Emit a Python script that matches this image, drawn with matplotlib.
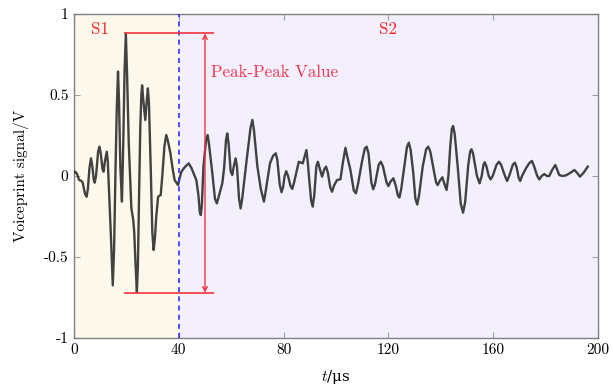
import matplotlib
matplotlib.use("Agg")
import matplotlib.pyplot as plt

# signal (t in us, voltage in V)
t = [0.0, 0.4, 1.1, 1.6, 2.0, 2.8, 3.3, 4.2, 4.8, 5.3,
     5.9, 6.5, 7.0, 7.5, 7.9, 8.4, 9.2, 9.7, 10.2, 10.9,
     11.3, 11.8, 12.5, 12.9, 13.4, 14.1, 14.8, 15.3, 15.8, 16.3,
     16.8, 17.2, 17.7, 18.3, 18.8, 19.3, 19.8, 20.3, 20.9, 21.4,
     21.9, 22.6, 23.0, 23.5, 24.0, 24.4, 24.8, 25.3, 25.7, 26.0,
     26.5, 27.2, 27.7, 28.2, 28.6, 29.3, 29.9, 30.4, 30.9, 31.4,
     32.1, 33.1, 33.7, 34.5, 35.2, 35.8, 36.8, 37.6, 38.4, 39.7,
     40.2, 41.0, 42.3, 43.8, 44.8, 45.8, 46.7, 47.5, 48.0, 48.4,
     48.8, 49.4, 50.4, 51.0, 51.5, 52.8, 53.8, 54.5, 55.2, 56.6,
     57.3, 58.0, 58.5, 59.0, 59.8, 60.4, 61.0, 61.7, 62.2, 63.0,
     63.6, 64.2, 65.9, 67.4, 68.1, 68.7, 70.0, 71.3, 72.5, 73.2,
     74.8, 76.0, 77.0, 77.6, 78.5, 79.2, 79.8, 80.4, 81.0, 81.7,
     82.6, 83.3, 84.0, 85.8, 87.3, 88.2, 88.7, 89.2, 89.8, 90.5,
     91.1, 91.7, 92.5, 93.1, 93.7, 94.7, 95.5, 96.2, 96.9, 97.8,
     98.5, 99.2, 100.4, 101.7, 102.6, 103.6, 104.3, 105.5, 106.8, 107.6,
     108.4, 109.9, 111.0, 111.7, 112.4, 113.5, 114.2, 114.9, 116.3, 117.1,
     117.9, 119.3, 120.0, 120.8, 121.9, 122.8, 123.6, 124.2, 124.9, 126.0,
     127.1, 127.8, 128.5, 129.5, 130.3, 131.0, 131.7, 133.1, 134.4, 135.2,
     136.0, 137.5, 138.2, 138.8, 139.6, 140.6, 141.4, 142.2, 142.9, 143.6,
     144.2, 144.7, 145.3, 146.5, 147.6, 148.5, 149.3, 150.5, 151.2, 151.7,
     152.3, 153.8, 154.8, 155.6, 156.3, 156.8, 157.4, 158.3, 159.0, 159.8,
     161.3, 162.2, 163.0, 164.5, 165.3, 166.1, 167.5, 168.3, 169.0, 169.7,
     170.3, 171.0, 172.5, 173.8, 174.8, 175.6, 176.8, 177.6, 178.5, 179.5,
     180.5, 181.4, 182.6, 183.7, 184.4, 185.2, 186.5, 187.8, 189.5, 191.0,
     192.0, 193.1, 194.5, 196.1]
v = [0.02, 0.027, 0.015, -0.01, -0.025, -0.03, -0.04, -0.11, -0.128, -0.08,
     0.05, 0.109, 0.06, -0.02, -0.041, 0.0, 0.15, 0.181, 0.14, 0.04,
     0.027, 0.09, 0.15, 0.09, -0.1, -0.375, -0.675, -0.45, 0.0, 0.4,
     0.645, 0.45, 0.05, -0.158, 0.2, 0.65, 0.88, 0.6, 0.2, 0.0,
     -0.2, -0.27, -0.35, -0.55, -0.715, -0.55, -0.15, 0.3, 0.5, 0.56,
     0.46, 0.346, 0.45, 0.541, 0.45, 0.04, -0.35, -0.457, -0.38, -0.25,
     -0.128, -0.117, 0.0, 0.18, 0.253, 0.22, 0.14, 0.05, -0.025, -0.056,
     -0.02, 0.027, 0.055, 0.078, 0.05, 0.01, -0.025, -0.12, -0.22, -0.241,
     -0.18, 0.058, 0.22, 0.253, 0.2, 0.017, -0.14, -0.169, -0.13, -0.045,
     0.05, 0.22, 0.263, 0.2, 0.03, 0.006, 0.06, 0.109, 0.06, -0.14,
     -0.2, -0.14, 0.099, 0.3, 0.346, 0.28, 0.058, -0.08, -0.158, -0.09,
     0.078, 0.125, 0.14, 0.1, -0.05, -0.1, -0.07, 0.0, 0.03, 0.0,
     -0.06, -0.08, -0.04, 0.088, 0.078, 0.13, 0.16, 0.09, -0.025, -0.15,
     -0.189, -0.12, 0.06, 0.088, 0.05, -0.004, 0.04, 0.058, 0.02, -0.07,
     -0.097, -0.06, -0.025, -0.02, 0.08, 0.174, 0.12, 0.037, -0.09, -0.107,
     -0.05, 0.088, 0.17, 0.181, 0.14, -0.04, -0.082, -0.05, 0.07, 0.088,
     0.06, -0.04, -0.062, -0.035, -0.014, -0.06, -0.12, -0.133, -0.08, 0.05,
     0.18, 0.206, 0.16, 0.017, -0.14, -0.176, -0.12, 0.058, 0.165, 0.181,
     0.15, 0.02, -0.04, -0.056, -0.03, -0.008, -0.05, -0.086, 0.0, 0.18,
     0.29, 0.309, 0.26, 0.05, -0.17, -0.226, -0.16, 0.07, 0.15, 0.165,
     0.14, 0.0, -0.045, 0.0, 0.07, 0.085, 0.06, 0.0, -0.021, 0.0,
     0.07, 0.088, 0.07, 0.0, -0.031, 0.0, 0.07, 0.082, 0.05, -0.01,
     -0.031, 0.0, 0.047, 0.08, 0.093, 0.06, 0.0, -0.021, 0.0, 0.012,
     0.0, 0.0, 0.04, 0.068, 0.04, 0.006, 0.0, 0.004, 0.02, 0.037,
     0.02, -0.004, 0.02, 0.058]

split = 40
peak_hi = 0.88
peak_lo = -0.72
x_ticks = [0, 40, 80, 120, 160, 200]
y_ticks = [-1, -0.5, 0, 0.5, 1]
y_labels = ["-1", "-0.5", "0", "0.5", "1"]

plt.rcParams['font.family'] = ['cmr10', 'DejaVu Serif']
plt.rcParams['mathtext.fontset'] = 'cm'
plt.rcParams['axes.unicode_minus'] = False
plt.rcParams['font.size'] = 11

fig = plt.figure(figsize=(6.13, 3.92), dpi=100)
ax = fig.add_axes([74 / 613, 54 / 392, 524 / 613, 324 / 392])

ax.axvspan(0, split, color='#fcf8ec', lw=0, zorder=0)
ax.axvspan(split, 200, color='#f4effd', lw=0, zorder=0)

ax.plot(t, v, color='#2e2e2e', lw=1.7, alpha=0.9, zorder=3,
        solid_joinstyle='round')

ax.axvline(split, color='#3030ff', lw=1.2, ls=(0, (3, 2.5)), zorder=4)

red = '#f0343c'
ax.hlines([peak_hi, peak_lo], 19.1, 53.4, color=red, lw=1.2, zorder=4)
ax.annotate('', xy=(50, peak_hi), xytext=(50, peak_lo),
            arrowprops=dict(arrowstyle='<->', color=red, lw=1.0,
                            shrinkA=0, shrinkB=0, mutation_scale=8), zorder=4)
ax.text(52.3, 0.64, 'Peak-Peak Value', color='#f0344c', fontsize=12.2,
        va='center', ha='left')
ax.text(9.9, 0.905, 'S1', color='#ff2020', fontsize=12.2, ha='center', va='center')
ax.text(119.8, 0.905, 'S2', color='#ff2020', fontsize=12.2, ha='center', va='center')

ax.set_xlim(0, 200)
ax.set_ylim(-1, 1)
ax.set_xticks(x_ticks)
ax.set_yticks(y_ticks)
ax.set_yticklabels(y_labels)
ax.tick_params(direction='in', length=4, color='#a0a0a0', top=True, right=True,
               labelsize=11, pad=4)
for s in ax.spines.values():
    s.set_color('#808080')
    s.set_linewidth(1.0)

ax.set_xlabel('$t$/μs', fontsize=11, labelpad=8, family=['DejaVu Serif'])
ax.set_ylabel('Voiceprint signal/V', fontsize=11, labelpad=11)

fig.savefig('out.png', dpi=100)
